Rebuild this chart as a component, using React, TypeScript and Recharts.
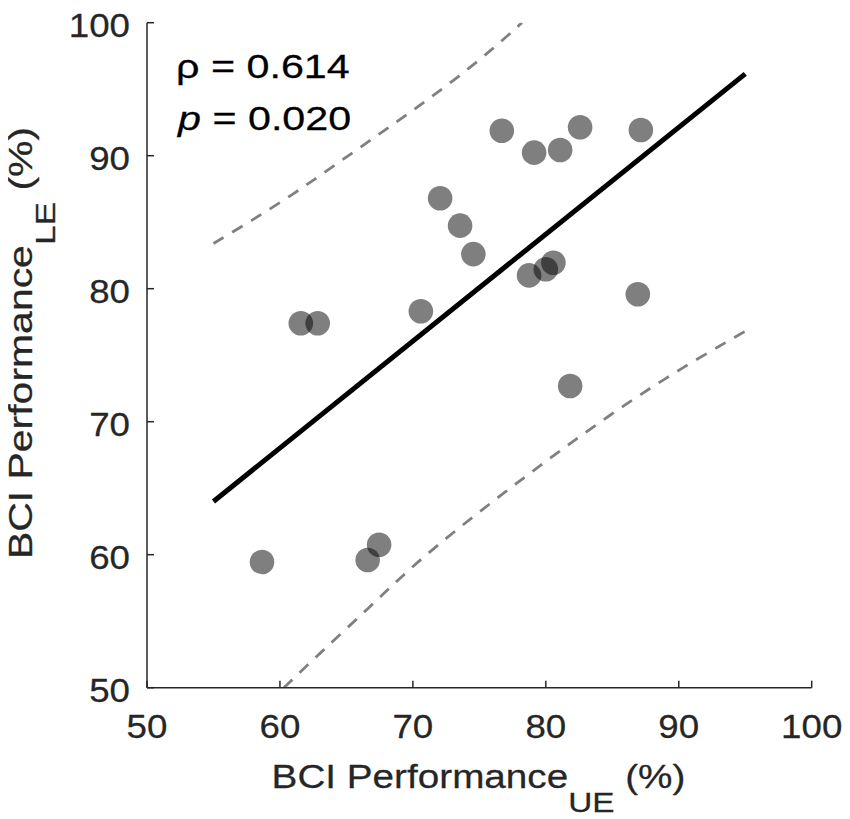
import React from 'react';
import { ComposedChart, XAxis, YAxis, Scatter, Line, Customized } from 'recharts';

// Per-subject BCI performance (%): upper extremity (x) vs lower extremity (y)
const ueScores = [58.65, 61.57, 62.84, 66.6, 67.46, 70.6, 72.05, 73.55, 74.55, 76.69, 78.74, 79.12, 80.0, 80.57, 81.08, 81.83, 82.58, 86.92, 87.15];
const leScores = [59.45, 77.4, 77.4, 59.6, 60.75, 78.3, 86.8, 84.74, 82.6, 91.88, 81.0, 90.23, 81.46, 81.95, 90.43, 72.68, 92.14, 79.58, 91.93];

// Regression line
const fitX = [55, 95];
const fitY = [64.0, 96.15];

// Prediction bounds
const upperX = [55, 58, 61, 64, 67, 70, 73, 76, 78.2];
const upperY = [83.4, 85.2, 87.1, 89.2, 91.3, 93.4, 95.6, 98.0, 100];
const lowerX = [60.3, 63.0, 66.8, 69.8, 73.3, 77.3, 81.3, 85.8, 90.3, 95.0];
const lowerY = [50, 52.6, 56.1, 59.0, 61.9, 65.0, 68.0, 71.2, 74.1, 76.8];

const xTicks = [50, 60, 70, 80, 90, 100];
const yTicks = [50, 60, 70, 80, 90, 100];

const rhoLabel = 'ρ = 0.614';
const pLabel = ' = 0.020';
const xTitle = 'BCI Performance';
const xSub = 'UE';
const yTitle = 'BCI Performance';
const ySub = 'LE';

const points = ueScores.map((x, i) => ({ x, y: leScores[i] }));
const fitData = fitX.map((x, i) => ({ x, y: fitY[i] }));
const upperData = upperX.map((x, i) => ({ x, y: upperY[i] }));
const lowerData = lowerX.map((x, i) => ({ x, y: lowerY[i] }));

const FONT = '"Liberation Sans", Arial, Helvetica, sans-serif';
const AXIS = '#262626';
const FS = 32.5;
const SW = 0.25;

const XTick = (props: any) => {
  const { x, y, payload } = props;
  return (
    <g transform={`translate(${x},${y})`}>
      <text transform="scale(1.13,1)" textAnchor="middle" fontSize={FS} fill={AXIS} stroke={AXIS} strokeWidth={SW} fontFamily={FONT}>
        {payload.value}
      </text>
    </g>
  );
};

const YTick = (props: any) => {
  const { x, y, payload } = props;
  return (
    <g transform={`translate(${x},${y + 14})`}>
      <text transform="scale(1.13,1)" textAnchor="end" fontSize={FS} fill={AXIS} stroke={AXIS} strokeWidth={SW} fontFamily={FONT}>
        {payload.value}
      </text>
    </g>
  );
};

const Dot = (props: any) => {
  const { cx, cy } = props;
  return <circle cx={cx} cy={cy} r={12.3} fill="#000" fillOpacity={0.5} />;
};

const Texts = () => (
  <g fontFamily={FONT} strokeWidth={SW}>
    <g transform="translate(478.5,788.3)">
      <text transform="scale(1.19,1)" textAnchor="middle" fontSize={FS} fill={AXIS} stroke={AXIS}>
        {xTitle}
        <tspan fontSize={28} dy={24}>{xSub}</tspan>
        <tspan dy={-24}>{' (%)'}</tspan>
      </text>
    </g>
    <g transform="translate(31.7,343) rotate(-90)">
      <text transform="scale(1.26,1)" textAnchor="middle" fontSize={FS} fill={AXIS} stroke={AXIS}>
        {yTitle}
        <tspan fontSize={28} dy={23.5}>{ySub}</tspan>
        <tspan dy={-23.5}>{' (%)'}</tspan>
      </text>
    </g>
    <g transform="translate(176,78.3)">
      <text transform="scale(1.27,1)" fontSize={FS} fill="#000" stroke="#000">{rhoLabel}</text>
    </g>
    <g transform="translate(178,130)">
      <text transform="scale(1.27,1)" fontSize={FS} fill="#000" stroke="#000">
        <tspan fontStyle="italic">p</tspan>
        {pLabel}
      </text>
    </g>
  </g>
);

export default function App() {
  return (
    <div style={{ width: 850, height: 819, marginLeft: -8, marginTop: -8 }}>
      <ComposedChart width={850} height={819} margin={{ top: 22.7, right: 38.3, bottom: 0, left: 0 }}>
        <XAxis
          type="number"
          dataKey="x"
          domain={[50, 100]}
          ticks={xTicks}
          allowDataOverflow
          height={131.3}
          axisLine={{ stroke: AXIS, strokeWidth: 1.5 }}
          tickLine={{ stroke: AXIS, strokeWidth: 1.5 }}
          tickSize={-7}
          tickMargin={57.3}
          tick={<XTick />}
          interval={0}
        />
        <YAxis
          type="number"
          dataKey="y"
          domain={[50, 100]}
          ticks={yTicks}
          allowDataOverflow
          width={147}
          axisLine={{ stroke: AXIS, strokeWidth: 1.5 }}
          tickLine={{ stroke: AXIS, strokeWidth: 1.5 }}
          tickSize={-7}
          tickMargin={24}
          tick={<YTick />}
          interval={0}
        />
        <Line
          data={upperData}
          dataKey="y"
          type="basis"
          stroke="#808080"
          strokeWidth={2.8}
          strokeDasharray="12 10"
          dot={false}
          activeDot={false}
          isAnimationActive={false}
        />
        <Line
          data={lowerData}
          dataKey="y"
          type="basis"
          stroke="#808080"
          strokeWidth={2.8}
          strokeDasharray="12 10"
          dot={false}
          activeDot={false}
          isAnimationActive={false}
        />
        <Line
          data={fitData}
          dataKey="y"
          type="linear"
          stroke="#000"
          strokeWidth={5}
          dot={false}
          activeDot={false}
          isAnimationActive={false}
        />
        <Scatter data={points} dataKey="y" shape={<Dot />} isAnimationActive={false} />
        <Customized component={Texts} />
      </ComposedChart>
    </div>
  );
}
